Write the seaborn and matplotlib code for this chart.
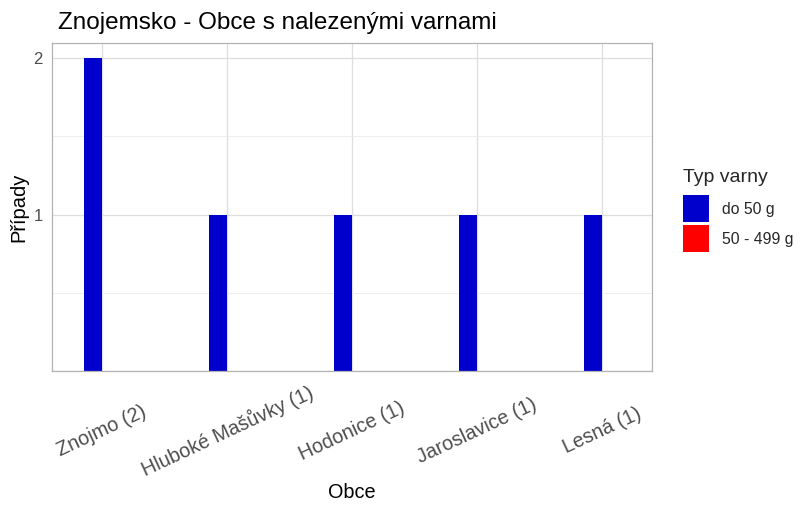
import matplotlib
matplotlib.use("Agg")
import matplotlib.pyplot as plt
import seaborn as sns
import pandas as pd
from matplotlib.patches import Patch
from matplotlib.ticker import MultipleLocator

categories = ["Znojmo (2)", "Hluboké Mašůvky (1)", "Hodonice (1)", "Jaroslavice (1)", "Lesná (1)"]
series_names = ["do 50 g", "50 - 499 g"]
do50 = [2, 1, 1, 1, 1]
g50_499 = [0, 0, 0, 0, 0]
colors = ["#0000CD", "#FF0000"]
y_ticks = [0, 1, 2]
y_tick_labels = ["", "1", "2"]

df = pd.DataFrame({
    "Obce": categories * 2,
    "Případy": do50 + g50_499,
    "Typ varny": [series_names[0]] * len(categories) + [series_names[1]] * len(categories),
})

sns.set_theme(style="white")
plt.rcParams["font.family"] = ["Liberation Sans", "DejaVu Sans"]

fig = plt.figure(figsize=(8.12, 5.11), dpi=100)
ax = fig.add_axes([52 / 812, 1 - 371 / 511, 600 / 812, 328 / 511])

sns.barplot(data=df, x="Obce", y="Případy", hue="Typ varny", order=categories,
            hue_order=series_names, palette=colors, width=0.288, dodge=True,
            saturation=1, ax=ax, legend=False, linewidth=0)

ax.set_xlim(-0.4, 4.4)
ax.set_ylim(0, 2.096)
ax.set_yticks(y_ticks)
ax.set_yticklabels(y_tick_labels)
ax.yaxis.set_minor_locator(MultipleLocator(0.5))
ax.set_axisbelow(True)
ax.grid(which="major", color="#DEDEDE", linewidth=0.9)
ax.grid(which="minor", axis="y", color="#EBEBEB", linewidth=0.6)
for s in ax.spines.values():
    s.set_color("#B3B3B3")
    s.set_linewidth(0.9)
ax.tick_params(axis="both", which="major", direction="out", length=3.6, width=0.9,
               color="#B3B3B3", labelcolor="#4D4D4D")
ax.tick_params(axis="both", which="minor", length=0)
ax.tick_params(axis="y", labelsize=12, pad=3)
ax.tick_params(axis="x", labelsize=14.3, pad=39.5)
ax.set_xticks(range(len(categories)))
ax.set_xticklabels(categories, rotation=25, ha="center", va="center")

ax.set_xlabel("Obce", fontsize=14.3, color="black")
ax.xaxis.set_label_coords(352 / 812, 1 - 483 / 511, transform=fig.transFigure)
ax.set_ylabel("Případy", fontsize=14.5, color="black", labelpad=4)
ax.set_title("Znojemsko - Obce s nalezenými varnami", loc="left", fontsize=17.5,
             color="black", pad=10, x=0.01)

handles = [Patch(facecolor=c, edgecolor="none") for c in colors]
leg = fig.legend(handles, series_names, title="Typ varny", loc="upper left",
                 bbox_to_anchor=(677 / 812, 1 - 163 / 511), frameon=False,
                 fontsize=11.3, title_fontsize=14, handlelength=1.66,
                 handleheight=2.27, handletextpad=0.8, labelspacing=0.19,
                 borderaxespad=0)
leg._legend_box.align = "left"
leg._legend_box.sep = 6.5

fig.savefig("out.png", dpi=100)
